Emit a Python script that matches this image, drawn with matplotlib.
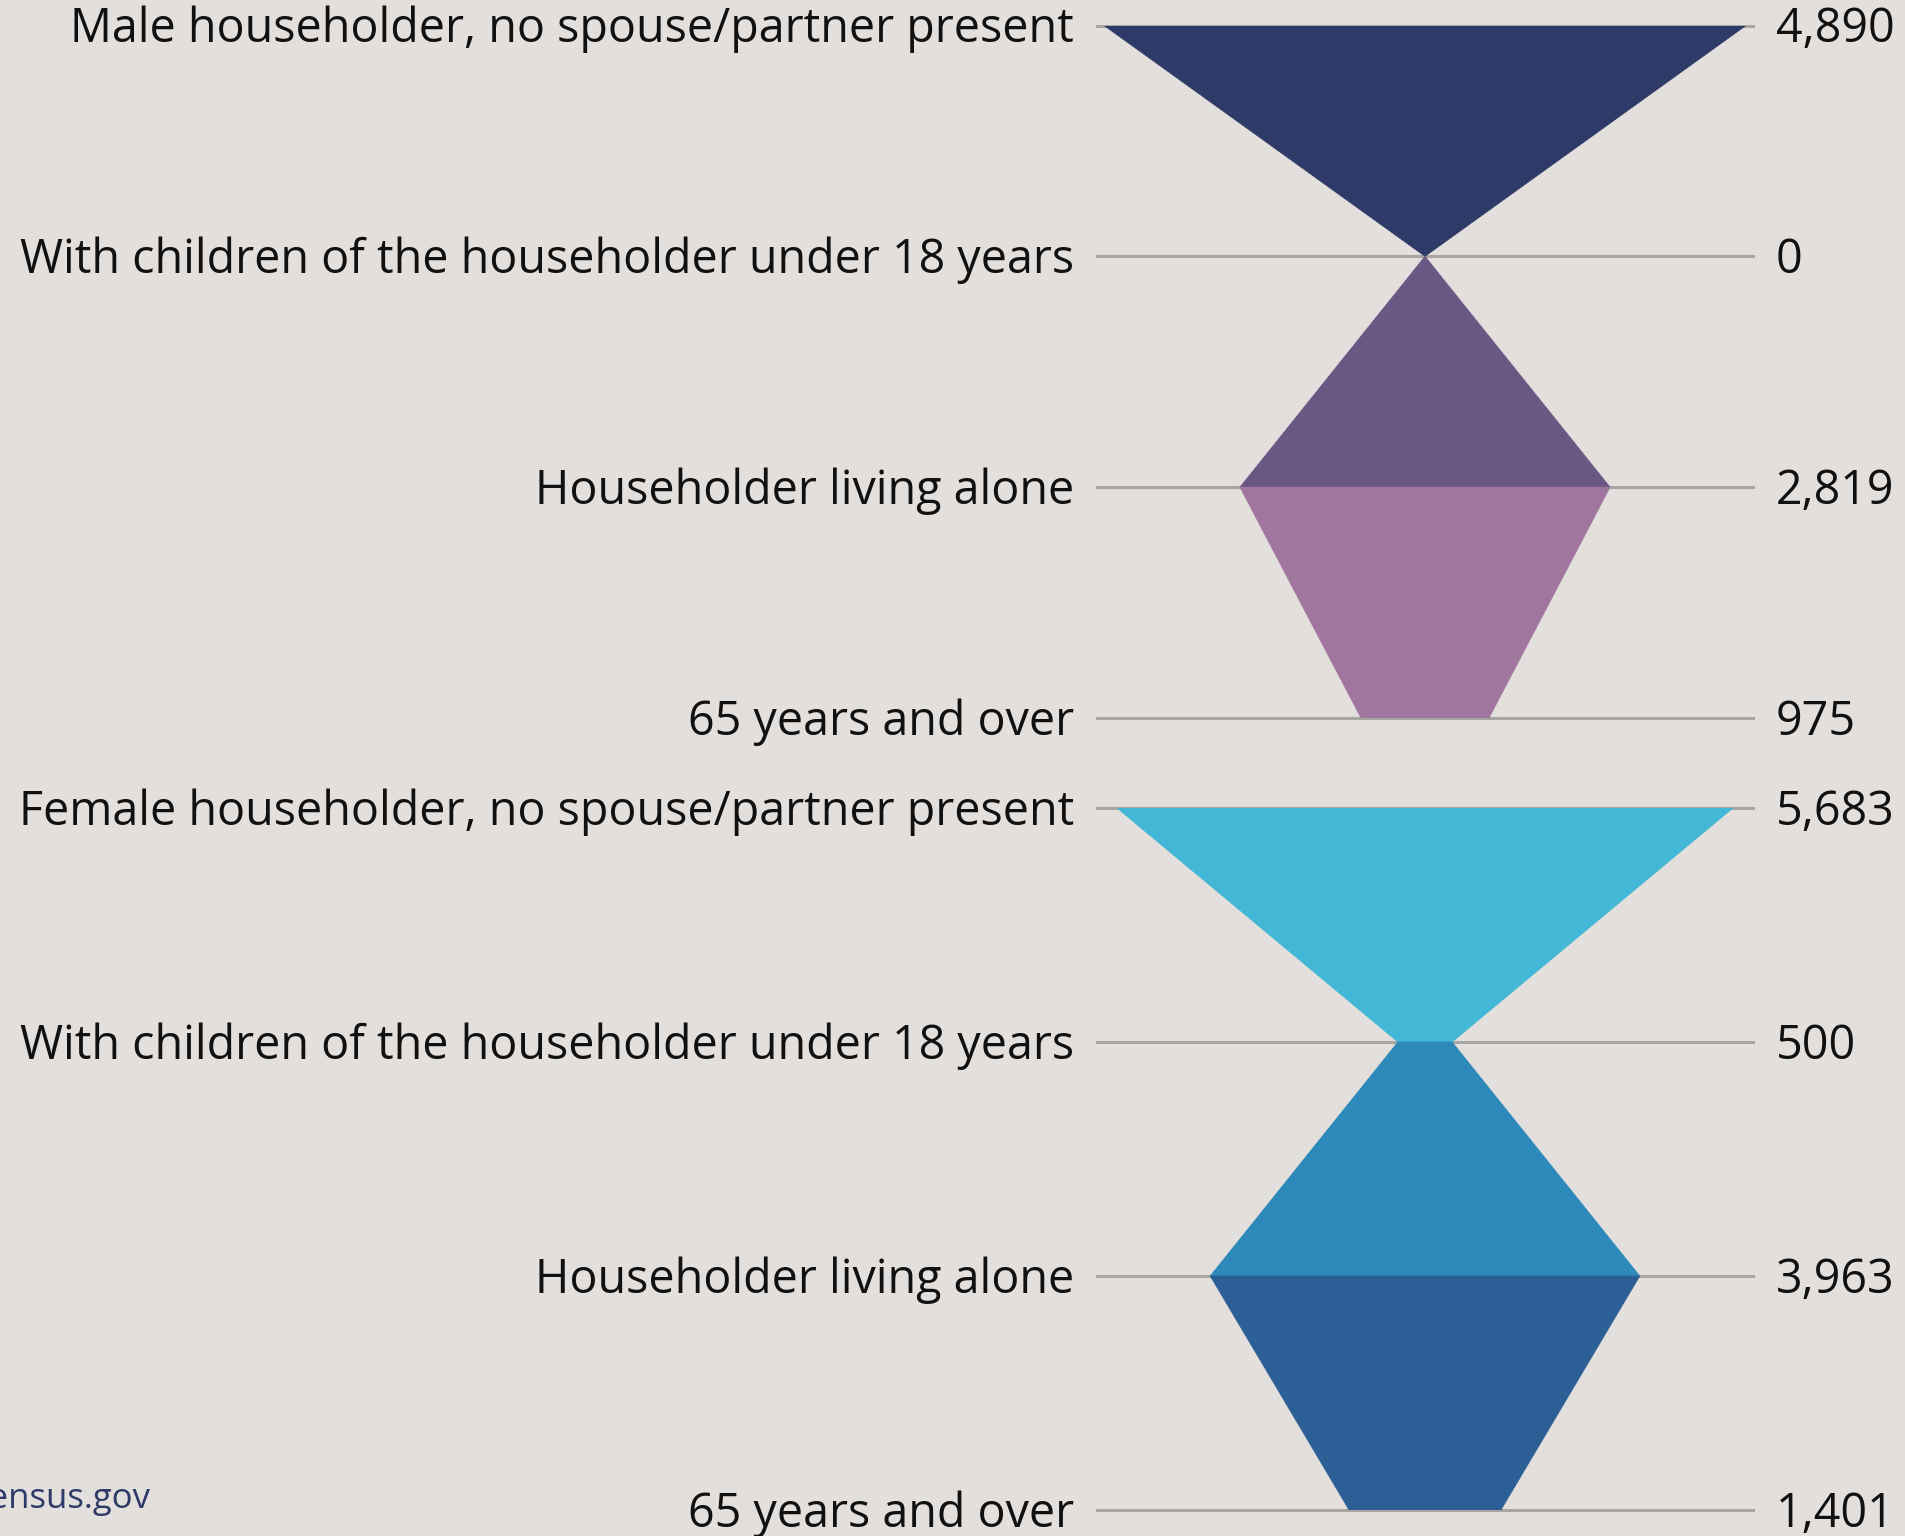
import matplotlib
matplotlib.use("Agg")
import matplotlib.pyplot as plt
from matplotlib.transforms import blended_transform_factory
from matplotlib.patches import Polygon

plt.rcParams['font.family'] = ['Open Sans', 'DejaVu Sans']

# ---- data ----
male_labels = ["Male householder, no spouse/partner present",
               "With children of the householder under 18 years",
               "Householder living alone",
               "65 years and over"]
male_values = [4890, 0, 2819, 975]
male_colors = ["#2E3A67", "#6A5784", "#A1769E"]

female_labels = ["Female householder, no spouse/partner present",
                 "With children of the householder under 18 years",
                 "Householder living alone",
                 "65 years and over"]
female_values = [5683, 500, 3963, 1401]
female_colors = ["#42B7D6", "#2C89BA", "#2D5F97"]

source_text = "census.gov"

# ---- style ----
BG = "#E3DFDC"
LINE = "#A8A5A3"
W, H = 1905, 1536
DPI = 100
FS = 33.6

fig = plt.figure(figsize=(W / DPI, H / DPI), dpi=DPI, facecolor=BG)

ax_left_px, ax_right_px = 1097, 1753
label_x_px = 1074
value_x_px = 1776


def draw_panel(top_px, bottom_px, labels, values, colors, pad):
    ax = fig.add_axes([ax_left_px / W, 1 - bottom_px / H,
                       (ax_right_px - ax_left_px) / W, (bottom_px - top_px) / H])
    ax.set_facecolor("none")
    n = len(values)
    vmax = max(values)
    ax.set_xlim(-vmax * pad, vmax * pad)
    ax.set_ylim(n - 1, 0)
    ax.axis("off")
    for i in range(n):
        ax.axhline(i, color=LINE, lw=2.2, zorder=1, clip_on=False)
    for i in range(n - 1):
        poly = Polygon([(-values[i], i), (values[i], i),
                        (values[i + 1], i + 1), (-values[i + 1], i + 1)],
                       closed=True, facecolor=colors[i], edgecolor=colors[i],
                       lw=0.5, zorder=2)
        ax.add_patch(poly)
    tl = blended_transform_factory(fig.transFigure, ax.transData)
    for i, (lab, v) in enumerate(zip(labels, values)):
        ax.annotate(lab, xy=(label_x_px / W, i), xycoords=tl,
                    xytext=(0, -12.0), textcoords="offset points",
                    ha="right", va="baseline", fontsize=FS, color="#111111",
                    annotation_clip=False)
        ax.annotate(f"{v:,}", xy=(value_x_px / W, i), xycoords=tl,
                    xytext=(0, -12.0), textcoords="offset points",
                    ha="left", va="baseline", fontsize=FS, color="#111111",
                    annotation_clip=False)
    return ax


# half-width scale: value of max maps to fixed pixel half-width per panel
draw_panel(25.5, 718, male_labels, male_values, male_colors, 328 / 321)
draw_panel(808, 1510, female_labels, female_values, female_colors, 328 / 308)

fig.text(150 / W, 1 - 1508 / H, source_text, ha="right", va="baseline",
         fontsize=25, color="#2E3A67")

fig.savefig("out.png", dpi=DPI, facecolor=BG)
